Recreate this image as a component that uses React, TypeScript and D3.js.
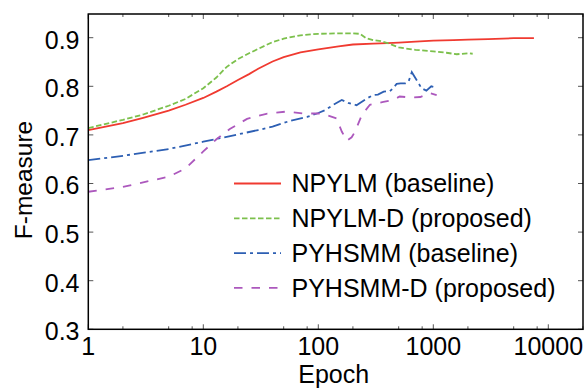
import React from "react";
import * as d3 from "d3";

const npylmEpochs = [1, 2, 3, 5, 7, 10, 13, 16, 20, 25, 30, 40, 50, 70, 100, 150, 200, 300, 400, 500, 700, 1000, 1500, 2000, 3000, 5000, 7500];
const npylmValues = [0.710, 0.724, 0.735, 0.750, 0.762, 0.776, 0.789, 0.800, 0.813, 0.825, 0.836, 0.851, 0.860, 0.870, 0.876, 0.882, 0.886, 0.888, 0.889, 0.890, 0.892, 0.894, 0.895, 0.896, 0.897, 0.899, 0.899];

const npylmDEpochs = [1, 2, 3, 5, 7, 10, 13, 16, 20, 25, 30, 40, 50, 70, 100, 150, 200, 230, 260, 300, 350, 400, 500, 700, 1000, 1300, 1600, 2000, 2200];
const npylmDValues = [0.714, 0.731, 0.742, 0.760, 0.774, 0.796, 0.818, 0.840, 0.856, 0.868, 0.877, 0.891, 0.898, 0.905, 0.908, 0.909, 0.909, 0.908, 0.899, 0.895, 0.893, 0.889, 0.880, 0.875, 0.872, 0.869, 0.866, 0.868, 0.867];

const pyhsmmEpochs = [1, 2, 5, 10, 20, 30, 40, 57, 80, 100, 115, 135, 160, 182, 215, 260, 300, 330, 370, 420, 450, 480, 520, 570, 610, 650, 720, 790, 870, 960, 1070];
const pyhsmmValues = [0.648, 0.657, 0.671, 0.686, 0.701, 0.710, 0.717, 0.729, 0.737, 0.745, 0.751, 0.762, 0.772, 0.766, 0.761, 0.774, 0.782, 0.783, 0.789, 0.790, 0.797, 0.805, 0.806, 0.806, 0.810, 0.829, 0.812, 0.796, 0.791, 0.800, 0.797];

const pyhsmmDEpochs = [1, 2, 5, 7, 10, 13, 17, 24, 36, 53, 74, 107, 144, 160, 177, 195, 209, 239, 281, 368, 450, 510, 630, 770, 930, 1070];
const pyhsmmDValues = [0.583, 0.593, 0.614, 0.631, 0.666, 0.691, 0.712, 0.733, 0.744, 0.748, 0.744, 0.744, 0.734, 0.707, 0.688, 0.695, 0.707, 0.741, 0.762, 0.768, 0.772, 0.779, 0.777, 0.778, 0.786, 0.782];

const seriesNames = ["NPYLM (baseline)", "NPYLM-D (proposed)", "PYHSMM (baseline)", "PYHSMM-D (proposed)"];
const seriesColors = ["#f03a30", "#7cc04c", "#2d5fb3", "#ac58bd"];
const seriesDashes = ["none", "5.5,2.5", "12,4,3,4", "8.5,9"];

const yTicks = [0.3, 0.4, 0.5, 0.6, 0.7, 0.8, 0.9];
const xMajorTicks = [1, 10, 100, 1000, 10000];
const xTickLabels = ["1", "10", "100", "1000", "10000"];

const W = 585;
const H = 388;
const left = 88.3;
const right = 583;
const top = 14;
const bottom = 329.3;

export default function App() {
  const x = d3.scaleLog().domain([1, Math.pow(10, (right - left) / 115)]).range([left, right]);
  const y = d3.scaleLinear().domain([0.3, 0.3 + (bottom - top) / 486]).range([bottom, top]);

  const series = [
    { e: npylmEpochs, v: npylmValues },
    { e: npylmDEpochs, v: npylmDValues },
    { e: pyhsmmEpochs, v: pyhsmmValues },
    { e: pyhsmmDEpochs, v: pyhsmmDValues },
  ];

  const line = d3
    .line<[number, number]>()
    .x((d) => x(d[0]))
    .y((d) => y(d[1]));

  const minorTicks: number[] = [];
  for (let k = 0; k < 5; k++) {
    for (const m of [2, 5, 8]) {
      const t = m * Math.pow(10, k);
      if (t < x.domain()[1]) minorTicks.push(t);
    }
  }

  const font = "'Liberation Sans', Arial, sans-serif";
  const legendX0 = 234;
  const legendX1 = 281;
  const legendY0 = 183.5;
  const legendStep = 34.8;

  return (
    <svg width={W} height={H} style={{ position: "absolute", left: 0, top: 0, background: "#fff" }} fontFamily={font}>
      <rect x={0} y={0} width={W} height={H} fill="#fff" />
      {series.map((s, i) => (
        <path
          key={i}
          d={line(s.e.map((e, j) => [e, s.v[j]] as [number, number])) || ""}
          fill="none"
          stroke={seriesColors[i]}
          strokeWidth={1.8}
          strokeDasharray={seriesDashes[i]}
        />
      ))}
      {yTicks.map((t) => (
        <g key={"y" + t}>
          <line x1={left} x2={left + 5} y1={y(t)} y2={y(t)} stroke="#555" strokeWidth={1} />
          <line x1={right} x2={right - 5} y1={y(t)} y2={y(t)} stroke="#555" strokeWidth={1} />
          <text x={79.5} y={y(t) + 10.8} fontSize={25} textAnchor="end" fill="#000">
            {t.toFixed(1)}
          </text>
        </g>
      ))}
      {xMajorTicks.map((t, i) => (
        <g key={"x" + t}>
          <line x1={x(t)} x2={x(t)} y1={bottom} y2={bottom - 5} stroke="#555" strokeWidth={1} />
          <line x1={x(t)} x2={x(t)} y1={top} y2={top + 5} stroke="#555" strokeWidth={1} />
          <text x={x(t)} y={354.5} fontSize={25} textAnchor="middle" fill="#000">
            {xTickLabels[i]}
          </text>
        </g>
      ))}
      {minorTicks.map((t) => (
        <g key={"m" + t}>
          <line x1={x(t)} x2={x(t)} y1={bottom} y2={bottom - 3} stroke="#555" strokeWidth={1} />
          <line x1={x(t)} x2={x(t)} y1={top} y2={top + 3} stroke="#555" strokeWidth={1} />
        </g>
      ))}
      <rect x={left} y={top} width={right - left} height={bottom - top} fill="none" stroke="#000" strokeWidth={1.5} />
      <text x={(left + right) / 2 - 2} y={382.5} fontSize={25} textAnchor="middle" fill="#000">
        Epoch
      </text>
      <text transform={`translate(31.5,180) rotate(-90)`} fontSize={24.5} textAnchor="middle" fill="#000">
        F-measure
      </text>
      {seriesNames.map((name, i) => (
        <g key={name}>
          <line
            x1={legendX0}
            x2={legendX1}
            y1={legendY0 + i * legendStep}
            y2={legendY0 + i * legendStep}
            stroke={seriesColors[i]}
            strokeWidth={1.8}
            strokeDasharray={seriesDashes[i]}
          />
          <text x={291.5} y={legendY0 + i * legendStep + 8.8} fontSize={25} fill="#000">
            {name}
          </text>
        </g>
      ))}
    </svg>
  );
}
